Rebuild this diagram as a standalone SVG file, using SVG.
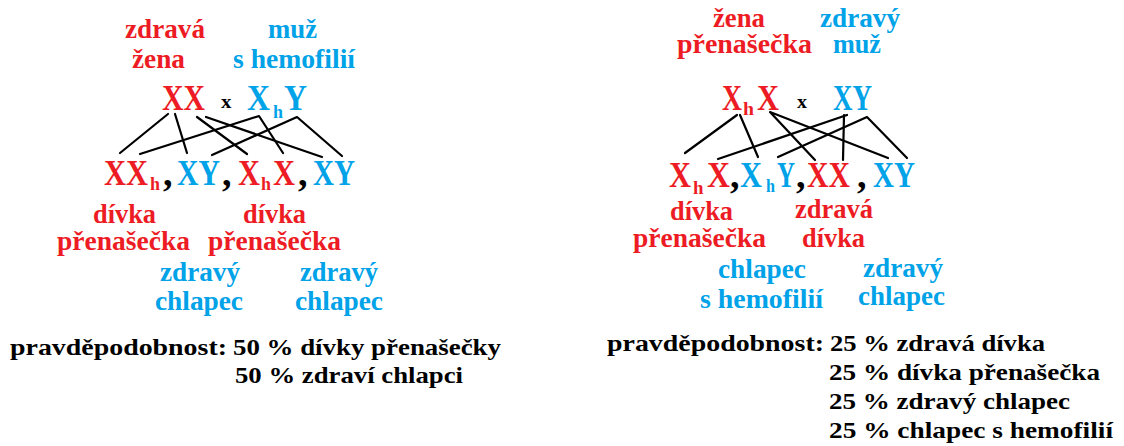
<svg xmlns="http://www.w3.org/2000/svg" width="1124" height="446" viewBox="0 0 1124 446">
<style>
text{font-family:"Liberation Serif","Times New Roman",serif;font-weight:bold}
.r{fill:#ed1c24}
.b{fill:#00a2e8}
.k{fill:#000}
.lab{font-size:28px}
.g{font-size:35px}
.s{font-size:18px}
.x{font-size:18px}
.cm{font-size:38px;fill:#000}
.bt{font-size:24px;fill:#000}
.ln{stroke:#000;stroke-width:2.2;fill:none;stroke-linecap:round;stroke-linejoin:round}
</style>
<rect width="1124" height="446" fill="#fff"/>
<g id="connectors">
<line class="ln" x1="168" y1="114" x2="120" y2="153"/>
<line class="ln" x1="175" y1="114" x2="187" y2="153"/>
<line class="ln" x1="197" y1="117" x2="247" y2="154"/>
<line class="ln" x1="206" y1="117" x2="322" y2="157"/>
<polyline class="ln" points="140,154 259,116 283,153"/>
<polyline class="ln" points="212,155 297,117 342,156"/>
<line class="ln" x1="737" y1="115" x2="685" y2="153"/>
<line class="ln" x1="740" y1="115" x2="758" y2="157"/>
<polyline class="ln" points="815,160 770,112 888,158"/>
<line class="ln" x1="847" y1="115" x2="718" y2="159"/>
<line class="ln" x1="844" y1="115" x2="843" y2="160"/>
<polyline class="ln" points="778,157 867,117 907,158"/>
</g>
<g id="left-parents">
<text class="lab r" x="125" y="38" textLength="80" lengthAdjust="spacingAndGlyphs">zdravá</text>
<text class="lab r" x="132" y="68" textLength="53" lengthAdjust="spacingAndGlyphs">žena</text>
<text class="lab b" x="268" y="38" textLength="49" lengthAdjust="spacingAndGlyphs">muž</text>
<text class="lab b" x="233" y="68" textLength="122" lengthAdjust="spacingAndGlyphs">s hemofilií</text>
<text class="g r" x="162" y="110" textLength="43" lengthAdjust="spacingAndGlyphs">XX</text>
<text class="x k" x="221" y="108" textLength="10.5" lengthAdjust="spacingAndGlyphs">x</text>
<text class="g b" x="247" y="110" textLength="23" lengthAdjust="spacingAndGlyphs">X</text>
<text class="s b" x="273" y="118" textLength="10" lengthAdjust="spacingAndGlyphs">h</text>
<text class="g b" x="284" y="110" textLength="23" lengthAdjust="spacingAndGlyphs">Y</text>
</g>
<g id="left-offspring">
<text class="g r" x="104" y="185" textLength="44" lengthAdjust="spacingAndGlyphs">XX</text>
<text class="s r" x="150" y="190" textLength="10" lengthAdjust="spacingAndGlyphs">h</text>
<text class="cm" x="163" y="186">,</text>
<text class="g b" x="177" y="185" textLength="43" lengthAdjust="spacingAndGlyphs">XY</text>
<text class="cm" x="222" y="186">,</text>
<text class="g r" x="238" y="185" textLength="22" lengthAdjust="spacingAndGlyphs">X</text>
<text class="s r" x="261" y="190" textLength="10" lengthAdjust="spacingAndGlyphs">h</text>
<text class="g r" x="273" y="185" textLength="22" lengthAdjust="spacingAndGlyphs">X</text>
<text class="cm" x="298" y="186">,</text>
<text class="g b" x="313" y="185" textLength="42" lengthAdjust="spacingAndGlyphs">XY</text>
<text class="lab r" x="93" y="223" textLength="63" lengthAdjust="spacingAndGlyphs">dívka</text>
<text class="lab r" x="57" y="250" textLength="133" lengthAdjust="spacingAndGlyphs">přenašečka</text>
<text class="lab r" x="243" y="223" textLength="63" lengthAdjust="spacingAndGlyphs">dívka</text>
<text class="lab r" x="208" y="250" textLength="133" lengthAdjust="spacingAndGlyphs">přenašečka</text>
<text class="lab b" x="160" y="281" textLength="80" lengthAdjust="spacingAndGlyphs">zdravý</text>
<text class="lab b" x="155" y="310" textLength="88" lengthAdjust="spacingAndGlyphs">chlapec</text>
<text class="lab b" x="300" y="281" textLength="78" lengthAdjust="spacingAndGlyphs">zdravý</text>
<text class="lab b" x="295" y="310" textLength="88" lengthAdjust="spacingAndGlyphs">chlapec</text>
</g>
<g id="left-probability">
<text class="bt" x="10" y="355" textLength="217" lengthAdjust="spacingAndGlyphs">pravděpodobnost:</text>
<text class="bt" x="233" y="355" textLength="268" lengthAdjust="spacingAndGlyphs">50 % dívky přenašečky</text>
<text class="bt" x="235" y="383" textLength="228" lengthAdjust="spacingAndGlyphs">50 % zdraví chlapci</text>
</g>
<g id="right-parents">
<text class="lab r" x="713" y="27" textLength="52" lengthAdjust="spacingAndGlyphs">žena</text>
<text class="lab r" x="677" y="53" textLength="135" lengthAdjust="spacingAndGlyphs">přenašečka</text>
<text class="lab b" x="820" y="27" textLength="80" lengthAdjust="spacingAndGlyphs">zdravý</text>
<text class="lab b" x="833" y="53" textLength="48" lengthAdjust="spacingAndGlyphs">muž</text>
<text class="g r" x="722" y="110" textLength="20" lengthAdjust="spacingAndGlyphs">X</text>
<text class="s r" x="743" y="115" textLength="11" lengthAdjust="spacingAndGlyphs">h</text>
<text class="g r" x="757" y="110" textLength="22" lengthAdjust="spacingAndGlyphs">X</text>
<text class="x k" x="797" y="108" textLength="10" lengthAdjust="spacingAndGlyphs">x</text>
<text class="g b" x="833" y="110" textLength="39" lengthAdjust="spacingAndGlyphs">XY</text>
</g>
<g id="right-offspring">
<text class="g r" x="669" y="187" textLength="22" lengthAdjust="spacingAndGlyphs">X</text>
<text class="s r" x="693" y="194" textLength="10.5" lengthAdjust="spacingAndGlyphs">h</text>
<text class="g r" x="707" y="187" textLength="23" lengthAdjust="spacingAndGlyphs">X</text>
<text class="cm" x="730" y="188">,</text>
<text class="g b" x="740" y="187" textLength="22" lengthAdjust="spacingAndGlyphs">X</text>
<text class="s b" x="766" y="192" textLength="9" lengthAdjust="spacingAndGlyphs">h</text>
<text class="g b" x="777" y="187" textLength="18" lengthAdjust="spacingAndGlyphs">Y</text>
<text class="cm" x="796" y="188">,</text>
<text class="g r" x="807" y="187" textLength="43" lengthAdjust="spacingAndGlyphs">XX</text>
<text class="cm" x="857" y="188">,</text>
<text class="g b" x="873" y="187" textLength="42" lengthAdjust="spacingAndGlyphs">XY</text>
<text class="lab r" x="670" y="220" textLength="63" lengthAdjust="spacingAndGlyphs">dívka</text>
<text class="lab r" x="633" y="247" textLength="133" lengthAdjust="spacingAndGlyphs">přenašečka</text>
<text class="lab r" x="795" y="218" textLength="78" lengthAdjust="spacingAndGlyphs">zdravá</text>
<text class="lab r" x="802" y="247" textLength="63" lengthAdjust="spacingAndGlyphs">dívka</text>
<text class="lab b" x="718" y="278" textLength="88" lengthAdjust="spacingAndGlyphs">chlapec</text>
<text class="lab b" x="700" y="308" textLength="123" lengthAdjust="spacingAndGlyphs">s hemofilií</text>
<text class="lab b" x="863" y="277" textLength="80" lengthAdjust="spacingAndGlyphs">zdravý</text>
<text class="lab b" x="858" y="305" textLength="87" lengthAdjust="spacingAndGlyphs">chlapec</text>
</g>
<g id="right-probability">
<text class="bt" x="607" y="351" textLength="217" lengthAdjust="spacingAndGlyphs">pravděpodobnost:</text>
<text class="bt" x="830" y="351" textLength="215" lengthAdjust="spacingAndGlyphs">25 % zdravá dívka</text>
<text class="bt" x="829" y="380" textLength="271" lengthAdjust="spacingAndGlyphs">25 % dívka přenašečka</text>
<text class="bt" x="829" y="409" textLength="241" lengthAdjust="spacingAndGlyphs">25 % zdravý chlapec</text>
<text class="bt" x="829" y="438" textLength="284" lengthAdjust="spacingAndGlyphs">25 % chlapec s hemofilií</text>
</g>
</svg>
